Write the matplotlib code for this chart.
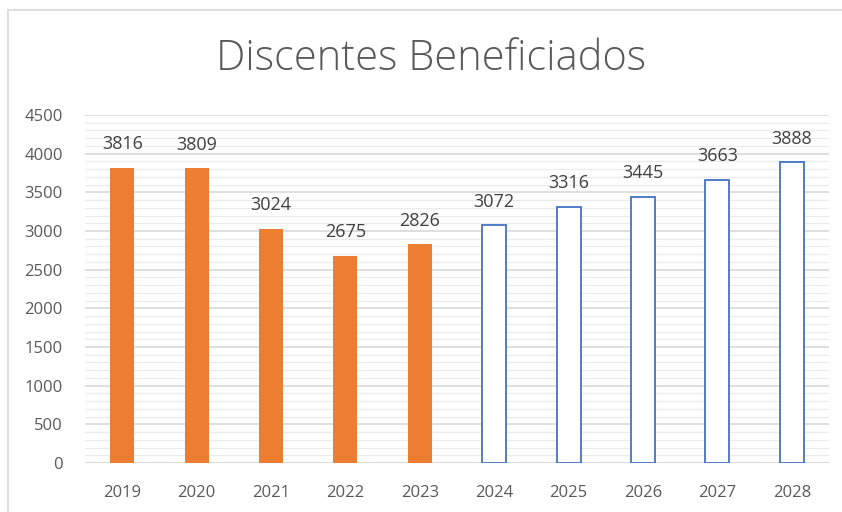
#!/usr/bin/env python3

from matplotlib import pyplot as plt
from matplotlib.patches import Rectangle
import numpy as np

years = ['2019', '2020', '2021', '2022', '2023',
         '2024', '2025', '2026', '2027', '2028']
real = [3816, 3809, 3024, 2675, 2826]
proj = [3072, 3316, 3445, 3663, 3888]

grey = '#595959'
plt.rcParams['font.family'] = ['Open Sans', 'DejaVu Sans']

fig = plt.figure(figsize=(8.42, 5.12), dpi=100)
ax = fig.add_axes([85/842, 1 - 463/512, (829 - 85)/842, (463 - 115)/512])

# chart frame (only top and left edges visible in the crop)
fig.patches.append(Rectangle((8/842, -0.5), 1.5, 1 - 10/512 + 0.5,
                             transform=fig.transFigure, fill=False,
                             edgecolor='#d9d9d9', linewidth=1.2))

x = np.arange(len(years))
w = 0.32
ax.bar(x[:5], real, width=w, color='#ED7D31', zorder=3)
ax.bar(x[5:], proj, width=w, facecolor='white', edgecolor='#4472C4',
       linewidth=1.3, zorder=3)

for xi, v in zip(x, real + proj):
    ax.text(xi, v + 190, str(v), ha='center', va='bottom', fontsize=13,
            color='#404040')

ax.set_xlim(-0.5, 9.5)
ax.set_ylim(0, 4500)
ax.set_yticks(np.arange(0, 4501, 500))
ax.set_yticks(np.arange(0, 4501, 100), minor=True)
ax.set_xticks(x)
ax.set_xticklabels(years)
ax.tick_params(axis='both', length=0, labelsize=12, labelcolor=grey)
ax.tick_params(axis='y', which='minor', length=0)
ax.tick_params(axis='y', pad=16)
ax.tick_params(axis='x', pad=16)
ax.grid(True, axis='y', which='major', color='#d9d9d9', linewidth=1.2, zorder=0)
ax.grid(True, axis='y', which='minor', color='#ebebeb', linewidth=0.9, zorder=0)
for s in ax.spines.values():
    s.set_visible(False)
ax.axhline(0, color='#d9d9d9', linewidth=1.2, zorder=2)

fig.text(0.512, 1 - 59/512, 'Discentes Beneficiados', ha='center', va='center',
         fontsize=30, color=grey, fontweight='light')

fig.savefig('out.png', dpi=100)
